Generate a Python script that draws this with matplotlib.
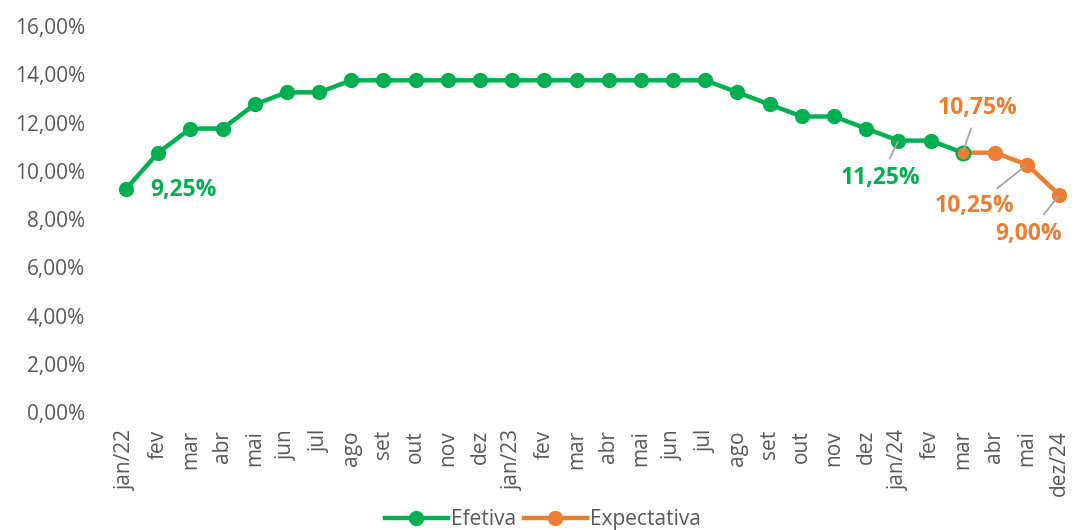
import numpy as np
import matplotlib
matplotlib.use("Agg")
from matplotlib import pyplot as plt
from matplotlib.ticker import FuncFormatter

meses = ["jan/22", "fev", "mar", "abr", "mai", "jun", "jul", "ago", "set", "out", "nov", "dez",
         "jan/23", "fev", "mar", "abr", "mai", "jun", "jul", "ago", "set", "out", "nov", "dez",
         "jan/24", "fev", "mar", "abr", "mai", "dez/24"]
nan = np.nan
efetiva = [9.25, 10.75, 11.75, 11.75, 12.75, 13.25, 13.25, 13.75, 13.75, 13.75, 13.75, 13.75,
           13.75, 13.75, 13.75, 13.75, 13.75, 13.75, 13.75, 13.25, 12.75, 12.25, 12.25, 11.75,
           11.25, 11.25, 10.75, nan, nan, nan]
expectativa = [nan] * 26 + [10.75, 10.75, 10.25, 9.00]

# rótulos: (índice, série, deslocamento em pontos)
rotulos = [(0, "efetiva", (41, -1)), (24, "efetiva", (-13, -27)),
           (26, "expectativa", (11, 32)), (28, "expectativa", (-38, -30)),
           (29, "expectativa", (-22, -28))]

verde = "#00B050"
laranja = "#ED7D31"
cinza = "#595959"

plt.rcParams["font.family"] = ["Open Sans", "DejaVu Sans"]

fig = plt.figure(figsize=(10.75, 5.3), dpi=100)
ax = fig.add_axes([0.1023, 0.2226, 0.898, 0.7283])

x = np.arange(len(meses))
ax.plot(x, efetiva, color=verde, lw=3.2, marker="o", ms=10, label="Efetiva", zorder=3)
ax.plot(x, expectativa, color=laranja, lw=3.2, marker="o", ms=10, label="Expectativa", zorder=4)
# ponto de junção: preenchido em laranja com borda verde
i0 = 26
ax.plot(x[i0], expectativa[i0], marker="o", ms=10, mfc=laranja, mec=verde, mew=1.5, zorder=5)

series = {"efetiva": (efetiva, verde), "expectativa": (expectativa, laranja)}
for i, s, off in rotulos:
    vals, cor = series[s]
    v = vals[i]
    txt = f"{v:.2f}%".replace(".", ",")
    seta = None
    if i != 0:
        seta = dict(arrowstyle="-", color="#A5A5A5", lw=1.3, shrinkA=4, shrinkB=1)
    ax.annotate(txt, (x[i], v), xytext=off, textcoords="offset points",
                ha="center", va="center", fontsize=16.5, fontweight="bold", color=cor,
                arrowprops=seta, zorder=6)

ax.set_xlim(-0.5, len(meses) - 0.5)
ax.set_ylim(0, 16)
ax.set_yticks(np.arange(0, 17, 2))
ax.yaxis.set_major_formatter(FuncFormatter(lambda v, p: f"{v:.2f}%".replace(".", ",")))
ax.set_xticks(x)
ax.set_xticklabels(meses, rotation=90)
ax.tick_params(axis="both", length=0, labelsize=15, labelcolor=cinza)
ax.tick_params(axis="x", pad=13)
ax.tick_params(axis="y", pad=18)
for sp in ax.spines.values():
    sp.set_visible(False)

fig.legend(loc="lower center", bbox_to_anchor=(0.505, -0.035), ncol=2, frameon=False,
           fontsize=15, labelcolor=cinza, handlelength=3, columnspacing=0.4, handletextpad=0.15)

fig.savefig("out.png", dpi=100)
